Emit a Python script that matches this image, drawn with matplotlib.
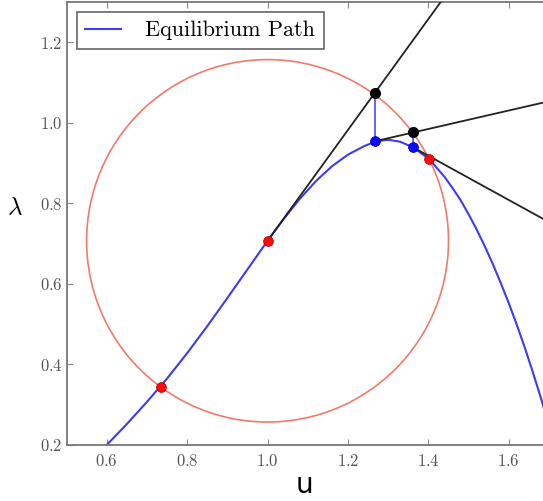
import matplotlib
matplotlib.use("Agg")
import matplotlib.pyplot as plt
from matplotlib.patches import Circle

plt.rcParams['font.family'] = ['cmr10', 'DejaVu Sans']
plt.rcParams['mathtext.fontset'] = 'cm'
plt.rcParams['axes.formatter.use_mathtext'] = True

# equilibrium path
path_u = [0.55, 0.60, 0.65, 0.70, 0.75, 0.80, 0.85, 0.90, 0.95, 1.00,
          1.04, 1.08, 1.12, 1.16, 1.20, 1.24, 1.27, 1.30, 1.33, 1.362,
          1.402, 1.42, 1.44, 1.46, 1.48, 1.50, 1.52, 1.54, 1.56, 1.58,
          1.60, 1.62, 1.64, 1.66, 1.68, 1.70, 1.72]
path_lam = [0.150, 0.200, 0.252, 0.307, 0.365, 0.428, 0.495, 0.565, 0.636, 0.707,
            0.761, 0.811, 0.855, 0.892, 0.921, 0.942, 0.954, 0.958, 0.953, 0.939,
            0.910, 0.889, 0.866, 0.838, 0.808, 0.773, 0.735, 0.694, 0.650, 0.602,
            0.552, 0.498, 0.441, 0.380, 0.316, 0.248, 0.177]

# arc-length circle
centre = (1.0, 0.707)
radius = 0.45

# predictor lines (start, end)
pred_u = [[1.0, 1.48], [1.266, 1.75], [1.362, 1.75]]
pred_lam = [[0.707, 1.368], [0.954, 1.065], [0.939, 0.726]]

# corrector steps (black -> blue)
corr_u = [[1.266, 1.266], [1.362, 1.362]]
corr_lam = [[1.073, 0.954], [0.976, 0.939]]

red_u = [0.734, 1.0, 1.402]
red_lam = [0.343, 0.707, 0.910]
black_u = [1.266, 1.362]
black_lam = [1.073, 0.976]
blue_u = [1.266, 1.362]
blue_lam = [0.954, 0.939]

fig = plt.figure(figsize=(5.43, 5.01), dpi=100)
ax = fig.add_axes([0.1225, 0.1118, 0.8886, 0.8842])

ax.add_patch(Circle(centre, radius, fill=False, ec='#f27a6c', lw=1.2, zorder=1))
ax.plot(path_u, path_lam, color='#3c3cf0', lw=1.5, label='Equilibrium Path', zorder=2)
for uu, ll in zip(pred_u, pred_lam):
    ax.plot(uu, ll, color='#222222', lw=1.3, zorder=3)
for uu, ll in zip(corr_u, corr_lam):
    ax.plot(uu, ll, color='#3c3cf0', lw=1.1, zorder=3)

ax.plot(red_u, red_lam, 'o', color='#ff0a0a', ms=7, mec='#c00000', mew=0.6, zorder=5)
ax.plot(black_u, black_lam, 'o', color='black', ms=7, zorder=5)
ax.plot(blue_u, blue_lam, 'o', color='#0a0aff', ms=7, mec='#0000b0', mew=0.6, zorder=5)

ax.set_xlim(0.5, 1.7)
ax.set_ylim(0.2, 1.3)
ax.set_xticks([0.6, 0.8, 1.0, 1.2, 1.4, 1.6])
ax.set_yticks([0.2, 0.4, 0.6, 0.8, 1.0, 1.2])
ax.tick_params(direction='in', length=4, width=0.8, color='#888888',
               labelcolor='#555555', labelsize=12, top=True, right=True)
ax.tick_params(axis='x', pad=6)
ax.tick_params(axis='y', pad=3)
for s in ax.spines.values():
    s.set_color('#777777')
    s.set_linewidth(1.3)

ax.set_xlabel('u', fontsize=20, family='DejaVu Sans')
ax.xaxis.label.set_va('center')
ax.xaxis.set_label_coords(0.494, -0.09)
ax.set_ylabel(r'$\lambda$', fontsize=18, rotation=0)
ax.yaxis.label.set_va('center')
ax.yaxis.label.set_ha('center')
ax.yaxis.set_label_coords(-0.107, 0.535)

leg = ax.legend(loc='upper left', fontsize=16, fancybox=False, framealpha=1,
                handlelength=1.6, handletextpad=1.1, borderaxespad=0.45,
                borderpad=0.4)
leg.get_frame().set_edgecolor('#666666')
leg.get_frame().set_linewidth(1.2)

fig.savefig('out.png', dpi=100)
